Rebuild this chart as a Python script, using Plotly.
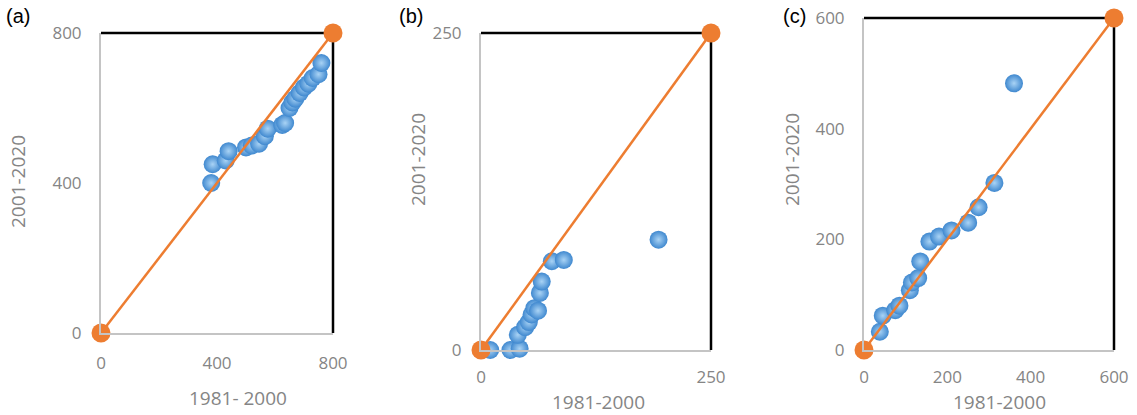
import plotly.graph_objects as go

# Panel (a)
a_x = [380, 385, 430, 440, 500, 520, 545, 565, 575, 625, 635, 650, 660, 670, 685, 700, 715, 730, 750, 760]
a_y = [400, 450, 460, 485, 495, 500, 505, 525, 545, 555, 560, 600, 615, 625, 640, 655, 665, 680, 690, 720]
# Panel (b)
b_x = [10, 32, 42, 40, 48, 52, 55, 58, 62, 64, 66, 77, 90, 193]
b_y = [0, 0, 1, 12, 18, 22, 28, 33, 31, 45, 54, 70, 71, 87]
# Panel (c)
c_x = [38, 45, 75, 85, 110, 115, 130, 135, 157, 180, 210, 250, 275, 313, 360]
c_y = [33, 62, 72, 80, 108, 122, 130, 160, 196, 205, 216, 230, 258, 302, 482]

a_max, b_max, c_max = 800, 250, 600
a_ticks = [0, 400, 800]
b_ticks = [0, 250]
c_ticks = [0, 200, 400, 600]

W, H = 1137, 415
BLUE = "#3f88cf"
BLUE_HI = "#a9d3f5"
ORANGE = "#ed7d31"
GRAY_TXT = "#858585"
GRAY_LINE = "#c4c4c4"
FONT = "Open Sans"

panels = [
    # xs, ys, max, ticks, x px domain, y px domain (top, bottom), x tick gap, label, xtitle, xt pos, yt pos, label pos
    (a_x, a_y, a_max, a_ticks, (101, 333), (33, 333), 14, "(a)", "1981- 2000", (238, 398), (18, 182), (18, 16)),
    (b_x, b_y, b_max, b_ticks, (481, 711), (33, 350), 11, "(b)", "1981-2000", (598, 402), (418, 160), (411, 16)),
    (c_x, c_y, c_max, c_ticks, (864, 1114), (18, 350), 11, "(c)", "1981-2000", (999, 402), (792, 160), (794, 16)),
]

fig = go.Figure()
shapes = []
annotations = []

for i, (xs, ys, mx, ticks, xd, yd, xgap, lab, xtitle, xtp, ytp, lp) in enumerate(panels):
    n = "" if i == 0 else str(i + 1)
    xa, ya = "x" + n, "y" + n
    fig.add_trace(go.Scatter(
        x=xs, y=ys, mode="markers", xaxis=xa, yaxis=ya, cliponaxis=False,
        marker=dict(size=18, color=BLUE, line=dict(width=0),
                    gradient=dict(type="radial", color=BLUE_HI)),
        showlegend=False,
    ))
    fig.add_trace(go.Scatter(
        x=[0, mx], y=[0, mx], mode="lines+markers", xaxis=xa, yaxis=ya, cliponaxis=False,
        line=dict(color=ORANGE, width=2.5),
        marker=dict(size=19, color=ORANGE),
        showlegend=False,
    ))
    axcommon = dict(
        range=[0, mx], tickvals=ticks, showgrid=False, zeroline=False,
        showline=True, linecolor=GRAY_LINE, linewidth=2, automargin=False,
        ticks="outside", tickcolor="rgba(0,0,0,0)",
        tickfont=dict(family=FONT, size=17, color=GRAY_TXT),
        fixedrange=True,
    )
    fig.layout["xaxis" + n] = dict(axcommon, ticklen=xgap, domain=[xd[0] / W, xd[1] / W], anchor=ya)
    fig.layout["yaxis" + n] = dict(axcommon, ticklen=14, domain=[1 - yd[1] / H, 1 - yd[0] / H], anchor=xa)
    # black frame on top and right edges
    shapes.append(dict(type="line", xref=xa + " domain", yref=ya + " domain",
                       x0=0, x1=1, y0=1, y1=1, line=dict(color="black", width=2.5), layer="below"))
    shapes.append(dict(type="line", xref=xa + " domain", yref=ya + " domain",
                       x0=1, x1=1, y0=0, y1=1, line=dict(color="black", width=2.5), layer="below"))
    annotations.append(dict(text=xtitle, xref="paper", yref="paper", x=xtp[0] / W, y=1 - xtp[1] / H,
                            xanchor="center", yanchor="middle", showarrow=False,
                            font=dict(family=FONT, size=19, color=GRAY_TXT)))
    annotations.append(dict(text="2001-2020", xref="paper", yref="paper", x=ytp[0] / W, y=1 - ytp[1] / H,
                            xanchor="center", yanchor="middle", showarrow=False, textangle=-90,
                            font=dict(family=FONT, size=19, color=GRAY_TXT)))
    annotations.append(dict(text=lab, xref="paper", yref="paper", x=lp[0] / W, y=1 - lp[1] / H,
                            xanchor="center", yanchor="middle", showarrow=False,
                            font=dict(family="Liberation Sans", size=20, color="black")))

fig.update_layout(
    width=W, height=H, margin=dict(l=0, r=0, t=0, b=0),
    paper_bgcolor="white", plot_bgcolor="white",
    shapes=shapes, annotations=annotations,
)

fig.write_html("out.html")
